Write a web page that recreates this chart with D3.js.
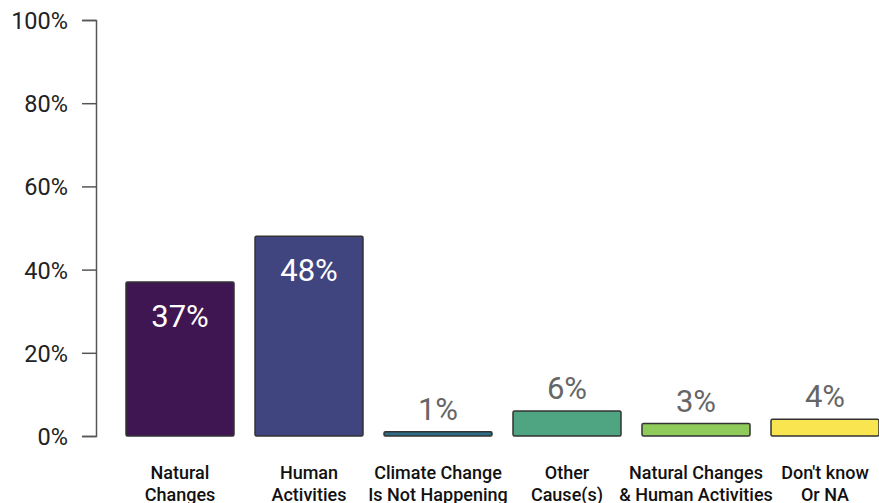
<!DOCTYPE html>
<html><head><meta charset="utf-8">
<script src="https://cdn.jsdelivr.net/npm/d3@7"></script>
<style>body{margin:0;background:#fff}svg{display:block}</style>
</head><body>
<script>
const categories = [["Natural","Changes"],["Human","Activities"],["Climate Change","Is Not Happening"],["Other","Cause(s)"],["Natural Changes","& Human Activities"],["Don't know","Or NA"]];
const values = [37, 48, 1, 6, 3, 4];
const colors = ["#3f1651","#404580","#2c6c84","#4fa482","#8fcb5b","#f9e54f"];
const yTicks = [0, 20, 40, 60, 80, 100];
const insideThreshold = 20;

const W = 879, H = 503;
const svg = d3.select("body").append("svg").attr("width", W).attr("height", H);
const y = d3.scaleLinear().domain([0, 100]).range([436, 20]);
const x = d3.scaleBand().domain(d3.range(values.length)).range([115.5, 889.5]).paddingInner(0.1628).paddingOuter(0.0814);

const axis = svg.append("g").attr("transform", "translate(96,0)")
  .call(d3.axisLeft(y).tickValues(yTicks).tickFormat(d => d + "%").tickSize(14).tickPadding(14));
axis.select(".domain").attr("stroke", "#555").attr("stroke-width", 1.5);
axis.selectAll(".tick line").attr("stroke", "#555").attr("stroke-width", 1.5);
axis.selectAll(".tick text").attr("font-family", "Roboto, sans-serif").attr("font-size", 23.5).attr("fill", "#222").attr("dy", "0.36em");

const g = svg.append("g");
g.selectAll("rect").data(values).join("rect")
  .attr("x", (d, i) => x(i)).attr("width", x.bandwidth())
  .attr("y", d => y(d)).attr("height", d => y(0) - y(d))
  .attr("fill", (d, i) => colors[i]).attr("stroke", "#333").attr("stroke-width", 1.5).attr("rx", 1.5);

g.selectAll("text.val").data(values).join("text").attr("class", "val")
  .attr("x", (d, i) => x(i) + x.bandwidth() / 2)
  .attr("y", d => d >= insideThreshold ? y(d) + 45 : y(d) - 12)
  .attr("text-anchor", "middle").attr("font-family", "Roboto, sans-serif").attr("font-size", 31)
  .attr("fill", d => d >= insideThreshold ? "#fff" : "#666")
  .text(d => d + "%");

const lab = g.selectAll("text.cat").data(categories).join("text").attr("class", "cat")
  .attr("text-anchor", "middle").attr("font-family", "Roboto, sans-serif").attr("font-size", 18).attr("font-weight", 500).attr("fill", "#111");
lab.each(function(d, i) {
  const t = d3.select(this);
  d.forEach((line, j) => t.append("tspan").attr("x", x(i) + x.bandwidth() / 2).attr("y", 479 + j * 22).text(line));
});
</script>
</body></html>
